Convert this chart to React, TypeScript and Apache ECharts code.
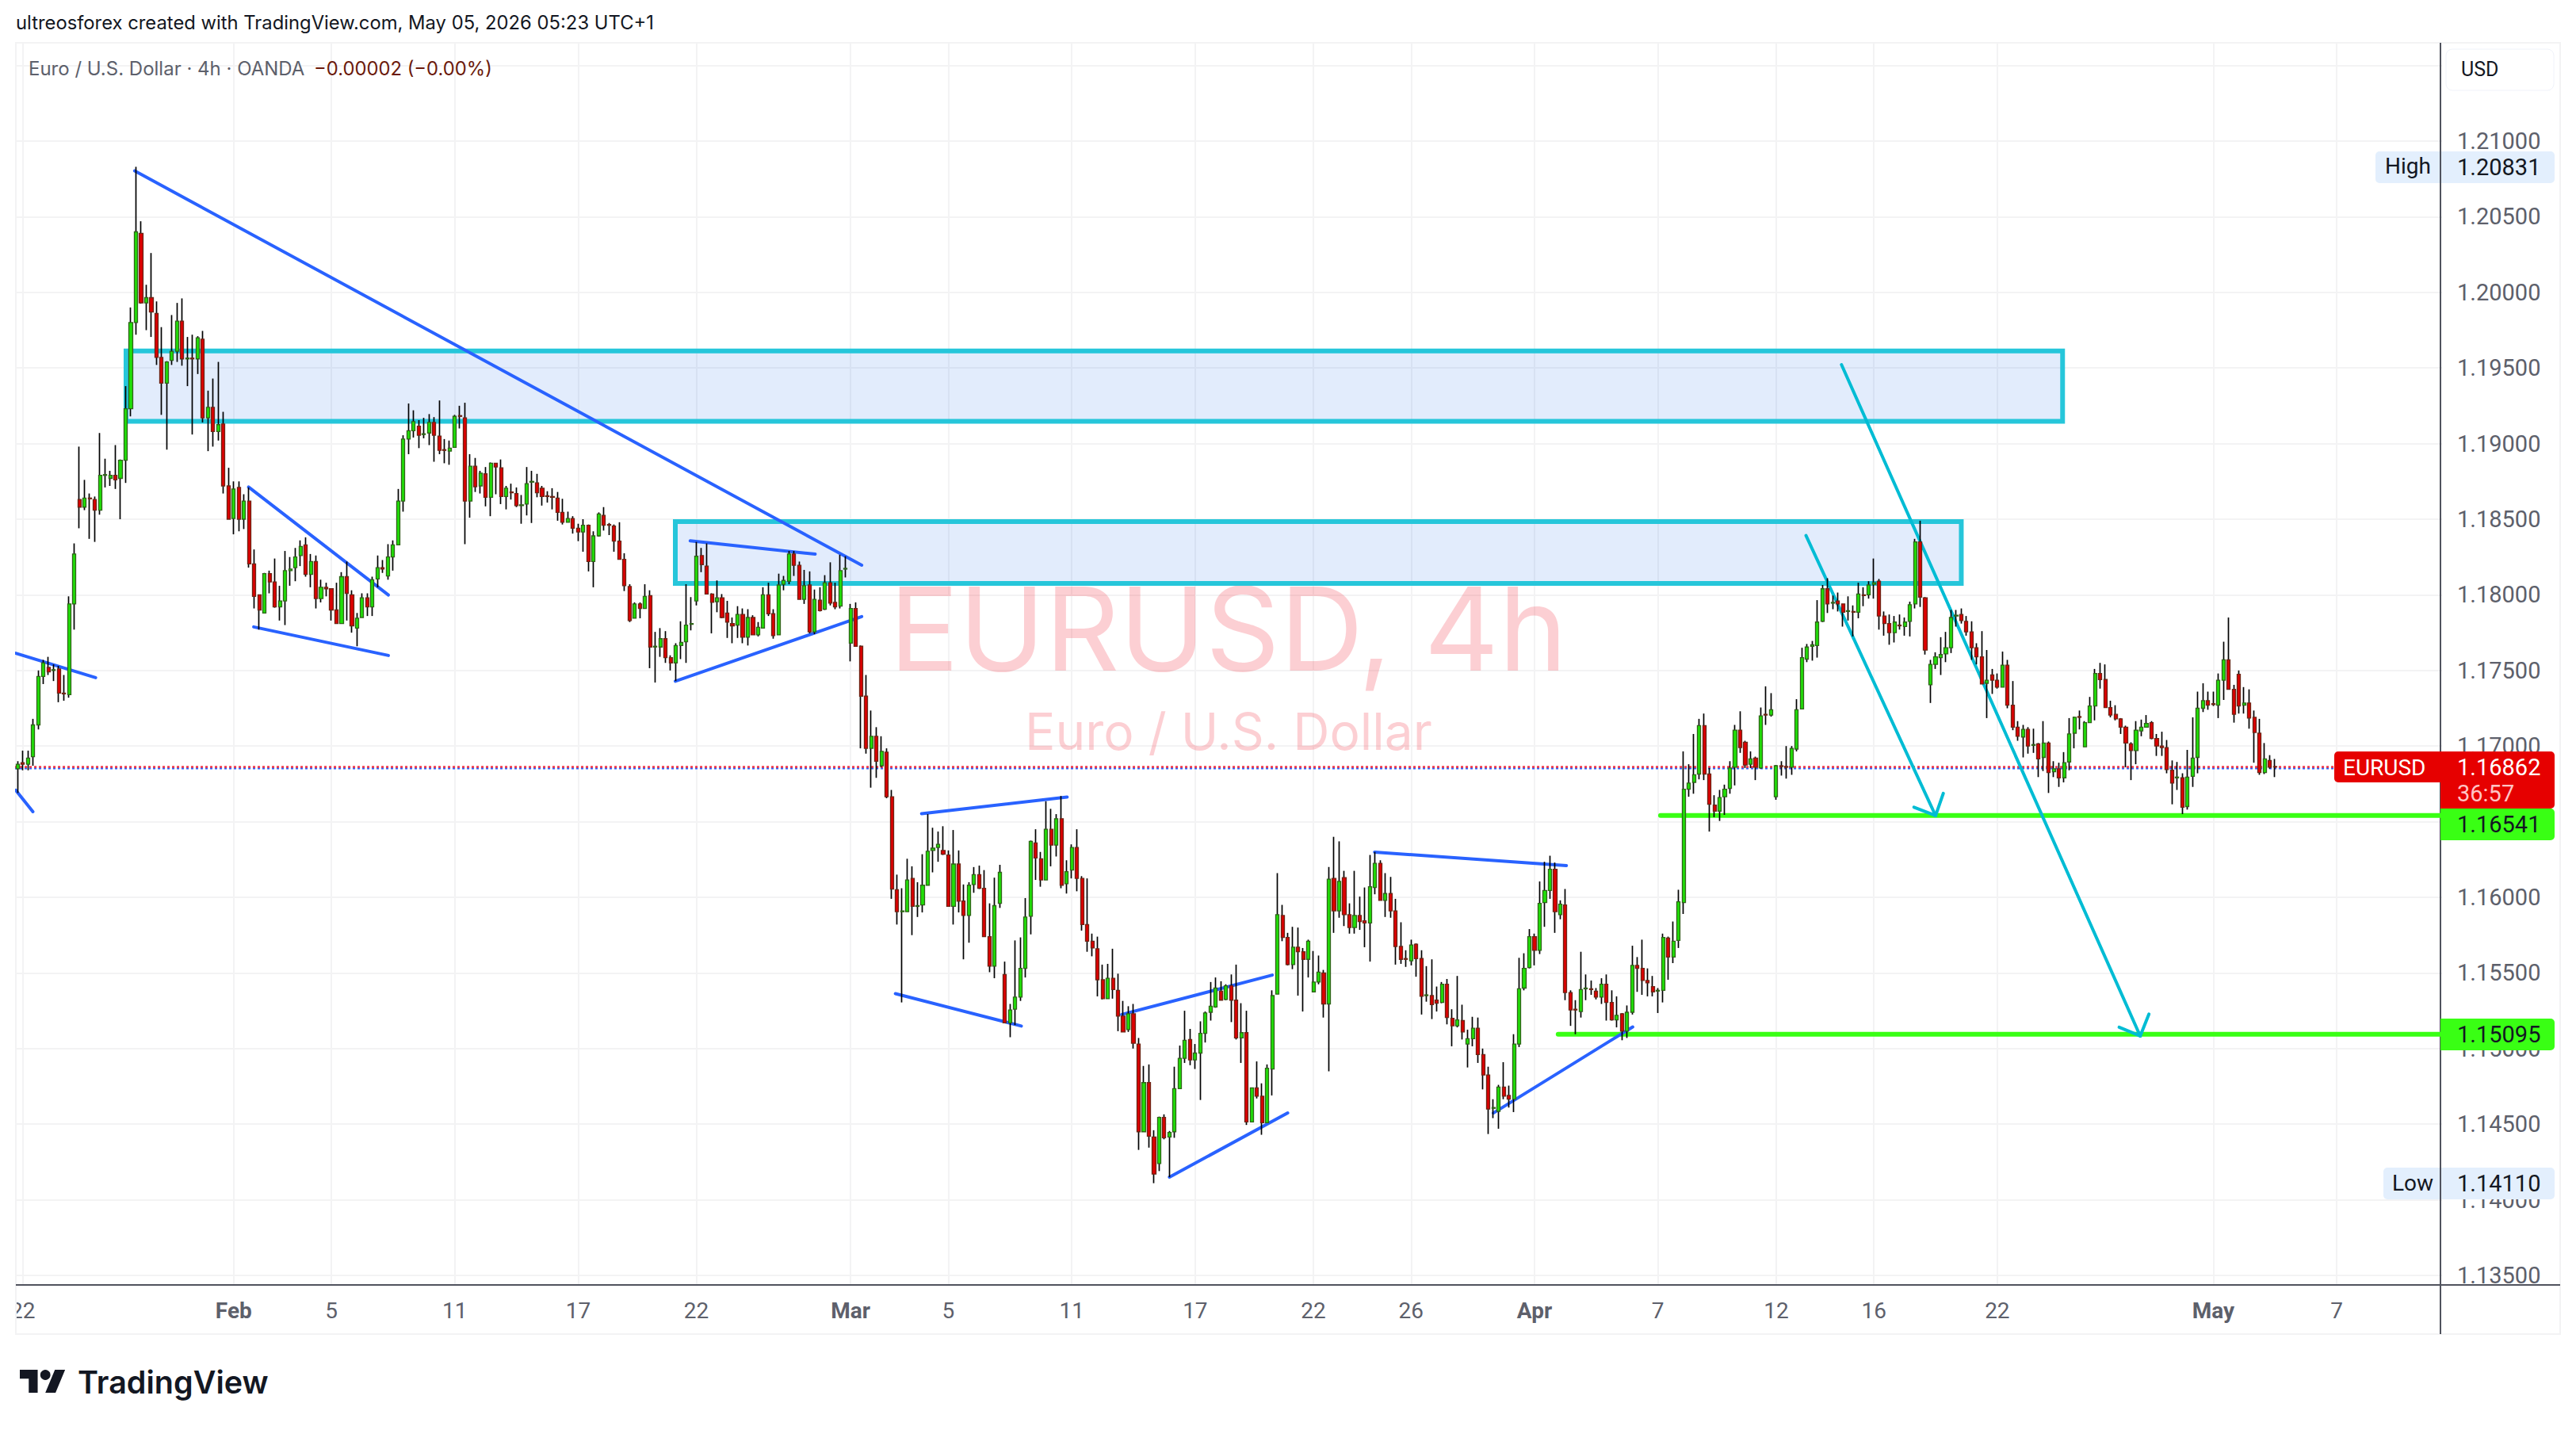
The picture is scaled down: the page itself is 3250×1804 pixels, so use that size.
import { useEffect, useRef } from 'react';
import * as echarts from 'echarts';

// candles are [open, close, low, high], 4h bars
const januaryCandles = [
  [1.1685,1.1688,1.1669,1.1690],[1.1689,1.1688,1.1684,1.1697],[1.1688,1.1692,1.1684,1.1697],[1.1693,1.1714,1.1687,1.1718],
  [1.1714,1.1746,1.1711,1.1750],[1.1746,1.1755,1.1741,1.1757],[1.1752,1.1749,1.1747,1.1759],[1.1750,1.17505,1.1743,1.1754],
  [1.1751,1.1735,1.1729,1.1753],[1.1735,1.17345,1.1730,1.1747],[1.1734,1.1794,1.1732,1.1799],[1.1794,1.1827,1.1777,1.1834],
  [1.1863,1.1858,1.1844,1.1898],[1.1858,1.1864,1.1856,1.1876],[1.1864,1.18635,1.1837,1.1867],[1.1863,1.1856,1.1835,1.1865],
  [1.1856,1.1879,1.1853,1.1907],[1.1879,1.18795,1.1871,1.1890],[1.1877,1.1879,1.1872,1.1882],[1.1879,1.1876,1.1870,1.1899],
  [1.1877,1.1889,1.1850,1.18895],[1.1889,1.1923,1.1874,1.1938],[1.1923,1.1980,1.1918,1.1990],[1.1980,1.2040,1.1972,1.2083],
  [1.2039,1.1993,1.19925,1.2047],[1.1993,1.19965,1.1975,1.2005],[1.19965,1.1987,1.19705,1.2026],[1.1986,1.1957,1.1952,1.1994],
  [1.1957,1.1940,1.1919,1.1977],[1.1940,1.1954,1.1896,1.19545],[1.1955,1.1961,1.1952,1.1985],[1.1961,1.1981,1.1954,1.1993],
  [1.1981,1.1956,1.19515,1.1996],[1.1956,1.19565,1.1938,1.19705],[1.19565,1.1956,1.1906,1.1972],[1.1956,1.1970,1.1946,1.1971],
  [1.1969,1.1917,1.1914,1.19745],[1.1917,1.1924,1.1895,1.1935],[1.1924,1.1908,1.1898,1.1943],[1.1908,1.19125,1.1902,1.1954],
  [1.1913,1.1872,1.1867,1.1921],[1.1872,1.1850,1.1850,1.1884],
];

const februaryCandles = [
  [1.18505,1.1870,1.1840,1.1875],[1.1871,1.1850,1.1842,1.1875],[1.1850,1.1862,1.18435,1.18665],[1.1862,1.18205,1.1818,1.1871],
  [1.18205,1.1799,1.1791,1.1830],[1.1800,1.1790,1.1777,1.1800],[1.1788,1.1814,1.1788,1.18145],[1.1814,1.18085,1.1801,1.1816],
  [1.18085,1.1792,1.17915,1.1824],[1.1792,1.1796,1.1783,1.1806],[1.1796,1.1816,1.1780,1.1829],[1.1816,1.1817,1.1806,1.1825],
  [1.1818,1.1825,1.1809,1.1831],[1.1826,1.1832,1.1819,1.1836],[1.1833,1.18135,1.1812,1.1838],[1.18135,1.1822,1.1805,1.1827],
  [1.1822,1.17975,1.1791,1.1826],[1.17975,1.1805,1.1795,1.1810],[1.1805,1.1804,1.1799,1.1808],[1.1804,1.1790,1.1783,1.1804],
  [1.1790,1.1781,1.1781,1.1808],[1.1781,1.1812,1.1781,1.1815],[1.1812,1.1801,1.1783,1.1822],[1.1800,1.17795,1.1775,1.1803],
  [1.1778,1.17845,1.1766,1.1788],[1.1785,1.1798,1.1785,1.1801],[1.1798,1.1792,1.1786,1.1801],[1.1792,1.1810,1.1786,1.1812],
  [1.18105,1.1818,1.1805,1.1826],[1.1818,1.1817,1.18145,1.1823],[1.18125,1.1825,1.1810,1.18335],[1.1825,1.1833,1.1816,1.1836],
  [1.1833,1.1862,1.1833,1.1870],[1.1862,1.1903,1.1855,1.19055],[1.1903,1.19085,1.1893,1.19265],[1.19085,1.19145,1.1904,1.1922],
  [1.19115,1.19055,1.1897,1.19155],[1.1906,1.19065,1.19035,1.1917],[1.1907,1.1914,1.1899,1.19195],[1.1914,1.19055,1.1888,1.19175],
  [1.1905,1.18955,1.1893,1.19285],[1.1896,1.18955,1.1887,1.1903],[1.1895,1.1897,1.1886,1.1902],[1.18975,1.1918,1.18975,1.1919],
  [1.19185,1.1918,1.1910,1.1925],[1.1917,1.1862,1.18335,1.1927],[1.1862,1.1885,1.1851,1.1893],[1.1885,1.18715,1.1868,1.18905],
  [1.1872,1.18805,1.1867,1.1882],[1.1880,1.18645,1.18585,1.18845],[1.18645,1.1887,1.1852,1.18875],[1.1887,1.18845,1.18665,1.1887],
  [1.1884,1.1865,1.1860,1.18895],[1.1865,1.18705,1.18565,1.1872],[1.1868,1.18675,1.1863,1.18735],[1.1867,1.1859,1.1858,1.1871],
  [1.1859,1.18595,1.1847,1.1866],[1.1860,1.18735,1.18525,1.18845],[1.18745,1.1875,1.18475,1.1882],[1.1874,1.18675,1.18645,1.1880],
  [1.18705,1.1865,1.1859,1.1872],[1.18655,1.1865,1.1861,1.18685],[1.1865,1.18645,1.18565,1.18705],[1.1864,1.18545,1.1849,1.1868],
  [1.18545,1.1848,1.18465,1.18635],[1.1848,1.18505,1.1848,1.1855],[1.18505,1.1844,1.18405,1.1852],[1.1844,1.18415,1.18355,1.1847],
  [1.18415,1.1846,1.18285,1.1850],[1.1846,1.1822,1.18155,1.18465],[1.1822,1.1839,1.1805,1.1842],[1.1839,1.18535,1.18385,1.18545],
  [1.18525,1.1846,1.18425,1.1858],[1.18465,1.1846,1.18395,1.18475],[1.18455,1.18355,1.18285,1.18465],[1.18355,1.18235,1.18235,1.1848],
  [1.18235,1.1806,1.18025,1.18275],[1.18055,1.1783,1.1782,1.1807],[1.17845,1.1794,1.17845,1.1795],[1.1794,1.1791,1.17845,1.1795],
  [1.1791,1.1799,1.1791,1.1807],[1.17995,1.17655,1.17515,1.1803],[1.17655,1.1766,1.1742,1.17755],[1.17655,1.1771,1.1759,1.1778],
  [1.1771,1.17585,1.1755,1.1776],[1.17585,1.1755,1.1750,1.1760],[1.1755,1.17665,1.1743,1.1768],[1.17665,1.17685,1.17575,1.17825],
  [1.1769,1.1780,1.1755,1.1807],[1.17805,1.1781,1.17765,1.17985],[1.1796,1.18255,1.1793,1.1835],[1.1826,1.1820,1.1815,1.1831],
  [1.1819,1.18005,1.18005,1.1834],[1.18005,1.1795,1.17745,1.1801],[1.17955,1.1798,1.17885,1.18095],[1.1798,1.1785,1.17845,1.18005],
  [1.1788,1.1782,1.17715,1.1796],[1.1781,1.17795,1.1768,1.1785],[1.1780,1.1787,1.17715,1.17925],[1.1787,1.1772,1.1768,1.1791],
  [1.1772,1.1785,1.17665,1.17905],[1.1785,1.17735,1.17735,1.17865],[1.17735,1.17785,1.17725,1.1782],[1.1778,1.1800,1.1778,1.1805],
  [1.1800,1.17875,1.1786,1.1808],[1.17875,1.1773,1.1771,1.17905],[1.17735,1.18065,1.17735,1.1814],[1.1807,1.18095,1.1803,1.18125],
  [1.1809,1.1827,1.1807,1.1829],[1.1827,1.18195,1.18125,1.1829],[1.18195,1.1797,1.1797,1.1822],[1.1797,1.1806,1.1794,1.18165],
  [1.18065,1.17755,1.17745,1.18155],[1.17755,1.1797,1.1774,1.18035],[1.17965,1.17895,1.1789,1.1805],[1.17905,1.1808,1.1790,1.1813],
  [1.1808,1.17945,1.1793,1.18215],[1.1795,1.1792,1.17905,1.1808],[1.17925,1.1816,1.1791,1.18265],[1.1817,1.18175,1.18115,1.18255],
];

const marchCandles = [
  [1.1768,1.1791,1.1756,1.1794],[1.1791,1.1766,1.1766,1.1795],[1.1766,1.1733,1.16985,1.17665],[1.1733,1.16985,1.1695,1.1747],
  [1.16985,1.17065,1.16725,1.17235],[1.17065,1.1690,1.1679,1.17125],[1.1687,1.16965,1.1686,1.17065],[1.1696,1.16665,1.16655,1.16985],
  [1.16665,1.16055,1.1599,1.1671],[1.1605,1.15905,1.1582,1.1615],[1.15905,1.1591,1.15305,1.1606],[1.15905,1.16115,1.15905,1.16255],
  [1.16125,1.1594,1.1575,1.16205],[1.1594,1.15945,1.1587,1.1610],[1.1595,1.1608,1.1590,1.16285],[1.1608,1.16305,1.1608,1.1655],
  [1.1631,1.16325,1.16165,1.1646],[1.1633,1.1635,1.16235,1.16435],[1.1631,1.16285,1.1628,1.1647],[1.1628,1.1594,1.1594,1.1631],
  [1.1594,1.1622,1.1582,1.16445],[1.1622,1.15975,1.1590,1.1631],[1.15975,1.1588,1.1559,1.16085],[1.1588,1.1608,1.1570,1.1610],
  [1.16085,1.1615,1.1603,1.1620],[1.1615,1.1606,1.16055,1.1621],[1.1606,1.1574,1.1574,1.1618],[1.1574,1.15545,1.15505,1.1596],
  [1.15545,1.15945,1.15465,1.1613],[1.1596,1.16165,1.1593,1.16215],[1.1549,1.1517,1.1517,1.15575],[1.1517,1.15255,1.15075,1.15295],
  [1.1526,1.1534,1.15155,1.15715],[1.1534,1.1553,1.15315,1.15735],[1.1553,1.1587,1.1547,1.15995],[1.15875,1.1637,1.15755,1.16375],
  [1.1636,1.1626,1.16115,1.1645],[1.16255,1.16115,1.1607,1.1630],[1.16115,1.1645,1.16115,1.16635],[1.1645,1.16345,1.16205,1.16585],
  [1.16345,1.1652,1.1627,1.1655],[1.1652,1.1608,1.1606,1.1667],[1.1609,1.1617,1.16025,1.16245],[1.1618,1.1633,1.16125,1.1635],
  [1.1633,1.16125,1.1604,1.1645],[1.16125,1.1582,1.1578,1.1614],[1.1582,1.1571,1.1564,1.16125],[1.1571,1.15665,1.1561,1.1576],
  [1.1566,1.15455,1.15345,1.1574],[1.15455,1.1533,1.15325,1.15555],[1.1533,1.15465,1.1533,1.1556],[1.15465,1.1539,1.1533,1.1566],
  [1.15385,1.15215,1.15115,1.15495],[1.15215,1.1511,1.1511,1.15315],[1.15125,1.1523,1.1511,1.1528],[1.1523,1.15035,1.1500,1.15295],
  [1.1503,1.1445,1.1433,1.1507],[1.1445,1.14775,1.1445,1.14885],[1.14775,1.1442,1.14345,1.14895],[1.14415,1.1417,1.1411,1.1446],
  [1.1424,1.14545,1.1419,1.1455],[1.14545,1.1441,1.1440,1.14565],[1.14415,1.14445,1.1415,1.14455],[1.1445,1.14735,1.1441,1.1488],
  [1.14735,1.14935,1.14735,1.1502],[1.14935,1.15055,1.14905,1.1525],[1.1506,1.14925,1.1489,1.1513],[1.14925,1.1497,1.14865,1.1503],
  [1.1497,1.1510,1.1466,1.1518],[1.1510,1.15235,1.1504,1.15245],[1.1524,1.1528,1.15185,1.1544],[1.15275,1.1540,1.1527,1.1547],
  [1.1538,1.1532,1.1532,1.15445],[1.15325,1.15415,1.1532,1.15425],[1.15415,1.1532,1.15175,1.1549],[1.1532,1.1507,1.1506,1.15555],
  [1.1507,1.15105,1.14905,1.1530],[1.15105,1.14515,1.14495,1.1525],[1.14515,1.1474,1.14515,1.1474],[1.1474,1.14685,1.1467,1.14915],
  [1.14685,1.1451,1.1443,1.1477],[1.1451,1.1487,1.1451,1.14895],[1.14865,1.1535,1.1469,1.15385],[1.1536,1.15885,1.1536,1.1616],
  [1.1588,1.15735,1.1571,1.1595],[1.15735,1.15555,1.1555,1.15765],[1.15555,1.1567,1.15525,1.15805],[1.1567,1.1564,1.1535,1.1580],
  [1.1564,1.1559,1.15245,1.15665],[1.1559,1.1571,1.1547,1.1572],[1.15375,1.1544,1.15375,1.15645],[1.1544,1.15505,1.15425,1.15615],
  [1.1550,1.15295,1.15205,1.1552],[1.15295,1.1612,1.1485,1.1620],[1.16125,1.1591,1.15765,1.1640],[1.1591,1.16105,1.15865,1.1637],
  [1.1613,1.15885,1.1581,1.16175],[1.15885,1.1580,1.1576,1.1596],[1.1580,1.1588,1.1576,1.16175],[1.1588,1.1584,1.15785,1.16005],
  [1.15845,1.1583,1.1567,1.16065],[1.1583,1.1607,1.15575,1.1628],[1.16065,1.16225,1.1602,1.1630],[1.16225,1.1598,1.1598,1.16245],
  [1.1598,1.16025,1.1587,1.1616],[1.16025,1.1591,1.15865,1.16135],[1.1591,1.15675,1.15555,1.1599],[1.15675,1.1559,1.1556,1.15835],
  [1.15595,1.1559,1.1554,1.1565],[1.1558,1.15685,1.1555,1.1572],[1.1569,1.15595,1.15475,1.15695],[1.15595,1.15345,1.15225,1.1565],
  [1.1535,1.15355,1.1531,1.15545],[1.1535,1.1529,1.15195,1.1559],[1.1532,1.1530,1.15245,1.1541],[1.15305,1.15425,1.1530,1.1544],
  [1.15425,1.15205,1.1516,1.1546],[1.1520,1.1515,1.15015,1.1526],[1.1515,1.1519,1.1514,1.1548],[1.15185,1.1511,1.1506,1.1529],
  [1.1503,1.15065,1.14875,1.15125],[1.15065,1.15135,1.15015,1.1521],[1.15135,1.1496,1.14905,1.15205],[1.1496,1.14825,1.1473,1.1500],
  [1.14825,1.1460,1.14435,1.1488],[1.14605,1.1461,1.1454,1.14665],[1.14585,1.14745,1.1447,1.1476],[1.14745,1.14685,1.14665,1.1491],
  [1.1469,1.14665,1.1461,1.14755],[1.14665,1.1503,1.1458,1.15095],[1.1503,1.15395,1.1501,1.1560],[1.1540,1.1553,1.15385,1.1563],
  [1.15535,1.1574,1.1553,1.1579],
];

const aprilCandles = [
  [1.1574,1.1565,1.1555,1.1576],[1.1565,1.1596,1.15625,1.16105],[1.15965,1.16045,1.15805,1.16235],[1.16045,1.16185,1.1599,1.16275],
  [1.16185,1.15905,1.15765,1.1623],[1.15885,1.15955,1.15855,1.1598],[1.1595,1.1537,1.1532,1.16055],[1.1537,1.15255,1.1515,1.15385],
  [1.1526,1.15255,1.15095,1.1532],[1.15245,1.1539,1.15205,1.1564],[1.15395,1.1540,1.1532,1.1549],[1.15395,1.1539,1.15355,1.1545],
  [1.1538,1.1534,1.15325,1.1540],[1.1534,1.15425,1.15295,1.15465],[1.15425,1.15305,1.15185,1.1549],[1.15305,1.1519,1.15185,1.15385],
  [1.1519,1.1522,1.1514,1.15345],[1.1523,1.15115,1.15055,1.15235],[1.15115,1.1524,1.1507,1.15285],[1.1524,1.1555,1.15225,1.1568],
  [1.1555,1.1553,1.15375,1.15605],[1.1553,1.1545,1.15355,1.1572],[1.1545,1.15435,1.15345,1.1553],[1.1541,1.15375,1.15345,1.1548],
  [1.1538,1.15385,1.15235,1.1540],[1.15385,1.15735,1.15305,1.1576],[1.1573,1.15605,1.15455,1.1574],[1.15605,1.1571,1.15565,1.1584],
  [1.15715,1.1597,1.15665,1.1605],[1.15965,1.16715,1.1589,1.16965],[1.16715,1.16755,1.16665,1.1688],[1.1676,1.1681,1.16685,1.1708],
  [1.16815,1.17135,1.1678,1.1718],[1.17135,1.16815,1.16775,1.17215],[1.16815,1.16615,1.16435,1.16855],[1.1661,1.1657,1.1653,1.16675],
  [1.1657,1.1666,1.16505,1.1671],[1.16665,1.16715,1.16545,1.16745],[1.1672,1.16855,1.16685,1.1690],[1.1686,1.17105,1.1674,1.1714],
  [1.17105,1.1699,1.16955,1.1723],[1.17025,1.16875,1.16855,1.17035],[1.1688,1.16915,1.16855,1.16965],[1.1692,1.1686,1.16775,1.1693],
  [1.16855,1.1720,1.1685,1.17255],[1.1721,1.17205,1.1714,1.17395],[1.17205,1.1724,1.17195,1.1735],[1.16665,1.1687,1.16645,1.16875],
  [1.1687,1.16865,1.16805,1.1690],[1.16865,1.1686,1.16785,1.1700],[1.1686,1.16985,1.1681,1.1700],[1.1698,1.1724,1.16965,1.1731],
  [1.17245,1.17585,1.17245,1.1765],[1.17575,1.17655,1.17555,1.17675],[1.1766,1.1767,1.17565,1.17695],[1.17665,1.1782,1.17585,1.17965],
  [1.17825,1.1804,1.1782,1.18065],[1.1804,1.1794,1.1788,1.1811],[1.17945,1.1795,1.17905,1.17995],[1.1796,1.1794,1.1789,1.18015],
  [1.1794,1.17885,1.1779,1.1794],[1.1789,1.17895,1.1783,1.1799],[1.1789,1.17885,1.17725,1.1793],[1.17885,1.18005,1.17845,1.1808],
  [1.1800,1.17995,1.17925,1.1805],[1.1800,1.18065,1.17975,1.1809],[1.1807,1.1808,1.17975,1.1824],[1.1809,1.1786,1.1777,1.18105],
  [1.1786,1.1781,1.1773,1.1789],[1.1781,1.1775,1.1767,1.1787],[1.1775,1.1782,1.17685,1.1786],[1.1780,1.17795,1.1777,1.1787],
  [1.1779,1.1782,1.1773,1.1785],[1.17825,1.17935,1.17725,1.17955],[1.1794,1.1835,1.1791,1.1837],[1.1835,1.17985,1.1792,1.1849],
  [1.1798,1.17635,1.17605,1.17985],[1.17405,1.1754,1.17285,1.1757],[1.1754,1.1759,1.1751,1.1762],[1.17585,1.17605,1.1747,1.1772],
  [1.1761,1.1765,1.17555,1.17755],[1.1765,1.1785,1.17615,1.1790],[1.1786,1.17865,1.1779,1.1790],[1.1787,1.1783,1.1781,1.1791],
  [1.17825,1.17755,1.1773,1.1786],[1.17755,1.1765,1.1757,1.17825],[1.1765,1.1759,1.1754,1.1768],[1.1759,1.1741,1.1741,1.1776],
  [1.17415,1.17435,1.17185,1.17635],[1.1747,1.17435,1.17345,1.1751],[1.17435,1.1739,1.1738,1.1748],[1.1739,1.17535,1.1739,1.17625],
  [1.17535,1.1727,1.1725,1.1757],[1.1727,1.17125,1.17105,1.1743],[1.17125,1.17065,1.17035,1.17165],[1.1706,1.1711,1.16925,1.1714],
  [1.1711,1.1700,1.1695,1.17125],[1.17005,1.1701,1.16955,1.17115],[1.17015,1.16915,1.16795,1.1702],[1.16925,1.1702,1.16835,1.17165],
  [1.1702,1.16825,1.1669,1.1703],[1.1683,1.1685,1.16795,1.1690],[1.1685,1.1679,1.1673,1.1689],[1.1679,1.1689,1.1676,1.1696],
  [1.16895,1.1708,1.1684,1.17185],[1.17085,1.1719,1.16985,1.17195],[1.17195,1.1719,1.1711,1.17235],[1.16995,1.17155,1.16995,1.17165],
  [1.17155,1.17265,1.17155,1.17325],[1.17265,1.1748,1.1717,1.1751],[1.1748,1.1744,1.1738,1.1755],[1.1744,1.17255,1.17255,1.1754],
  [1.17255,1.17205,1.1719,1.1730],[1.1721,1.1718,1.1717,1.1727],[1.1718,1.17125,1.1708,1.17185],[1.17125,1.1702,1.1686,1.17135],
  [1.17015,1.1697,1.16775,1.17025],[1.1697,1.17105,1.1688,1.17165],[1.1710,1.17125,1.17065,1.17175],[1.17125,1.1715,1.17125,1.17205],
  [1.17155,1.1705,1.17045,1.17165],[1.1705,1.1700,1.16935,1.1708],[1.1700,1.1699,1.16935,1.17095],[1.1699,1.16845,1.1682,1.1704],
  [1.1684,1.16755,1.16615,1.16905],[1.1679,1.16795,1.1671,1.16895],[1.1679,1.16595,1.1655,1.1682],[1.1660,1.16795,1.1658,1.16975],
  [1.1680,1.1692,1.1673,1.1719],[1.16925,1.1725,1.1682,1.1736],[1.1725,1.1730,1.17225,1.17415],[1.1730,1.1727,1.1724,1.1736],
];

const mayCandles = [
  [1.1728,1.17275,1.17265,1.1736],[1.1727,1.17435,1.17185,1.1748],[1.17435,1.1757,1.17305,1.1769],[1.1757,1.17375,1.17375,1.1785],
  [1.17375,1.1721,1.17155,1.17405],[1.17475,1.17265,1.17215,1.1750],[1.1727,1.17285,1.17215,1.1739],[1.17285,1.17185,1.17115,1.17375],
  [1.1719,1.1709,1.1689,1.17235],[1.17085,1.16825,1.1681,1.1718],[1.16825,1.16915,1.16815,1.1702],[1.16905,1.1686,1.1685,1.1694],
  [1.16864,1.16862,1.16795,1.16915],
];

const candles = [...januaryCandles, ...februaryCandles, ...marchCandles, ...aprilCandles, ...mayCandles];

const priceTicks = [1.135,1.14,1.145,1.15,1.155,1.16,1.165,1.17,1.175,1.18,1.185,1.19,1.195,1.2,1.205,1.21,1.215];
const priceLabels = priceTicks.filter((p) => p < 1.212);

// bar index of each date label
const dateTickBars = [1,42,61,85,109,132,162,181,205,229,252,271,295,319,342,361,385,427,451];
const dateTickTexts = ['22','Feb','5','11','17','22','Mar','5','11','17','22','26','Apr','7','12','16','22','May','7'];
const monthTicks = ['Feb','Mar','Apr','May'];

// drawings, anchored at [bar, price, bar, price]
const supplyZones = [
  [21.07,1.19612,397.7,1.19147],
  [127.9,1.18484,378,1.18075],
];
const trendLines = [
  [22.75,1.20803,164.15,1.18196],
  [-0.36,1.17614,15.16,1.17452],
  [-0.36,1.16708,2.96,1.16566],
  [44.9,1.18713,72.1,1.17999],
  [45.9,1.17788,72.1,1.17599],
  [130.8,1.18357,155.1,1.18269],
  [127.9,1.17429,164.15,1.17856],
  [175.8,1.16553,204.1,1.16663],
  [170.7,1.15363,195.2,1.15149],
  [214.7,1.15225,244,1.15486],
  [224,1.1415,247,1.14574],
  [263.9,1.16299,301.2,1.1621],
  [287,1.14574,314.1,1.15143],
];
const targetArrows = [
  [347.8,1.18392,373,1.1654],
  [368.8,1.16596,373,1.1654],
  [374.5,1.16687,373,1.1654],
  [354.7,1.19522,412.8,1.15083],
  [408.7,1.15141,412.8,1.15083],
  [414.5,1.15228,412.8,1.15083],
];
const targetLevels = [
  [319.5,1.16541,471.2,1.16541],
  [299.6,1.15095,471.2,1.15095],
];
const lastPriceRed = [[-0.5,1.16862,450.6,1.16862]];
const lastPriceBlue = [[-0.5,1.16853,450.6,1.16853]];

const BAR_COUNT = 472;
const FONT = 'Inter, "Noto Sans", sans-serif';
const AXIS_FONT = 'Roboto, "Noto Sans", sans-serif';
const GREY = '#5d606b';
const AXIS_COLOR = '#50535e';

echarts.graphic.registerShape(
  'tvLogo',
  echarts.graphic.extendPath('M14 22H7V11H0V4h14v18zM28 22h-8l7.5-18h8L28 22z', {}) as any
);

const segmentSeries = (data: number[][], color: string, width: number, z: number, dash?: number[], cap = 'round') => ({
  type: 'custom',
  xAxisIndex: 1,
  yAxisIndex: 0,
  z,
  clip: true,
  silent: true,
  encode: { x: [0, 2], y: [1, 3] },
  data,
  renderItem: (_: any, api: any) => {
    const a = api.coord([api.value(0), api.value(1)]);
    const b = api.coord([api.value(2), api.value(3)]);
    return {
      type: 'line',
      shape: { x1: a[0], y1: a[1], x2: b[0], y2: b[1] },
      style: { stroke: color, lineWidth: width, lineCap: cap, lineDash: dash, fill: null },
    };
  },
});

const text = (x: number, y: number, value: string, size: number, fill: string, family = AXIS_FONT, weight = 400) => ({
  type: 'text',
  x,
  y,
  z: 100,
  silent: true,
  style: { text: value, font: `${weight} ${size}px ${family}`, fill, textVerticalAlign: 'middle', textAlign: 'left' },
});

const box = (x: number, y: number, width: number, height: number, fill: string, r: any = 5, stroke?: string) => ({
  type: 'rect',
  z: 90,
  silent: true,
  shape: { x, y, width, height, r },
  style: { fill, stroke },
});

const App = () => {
  const chartRef = useRef<HTMLDivElement>(null);

  useEffect(() => {
    if (!chartRef.current) return;

    const chart = echarts.init(chartRef.current, undefined, { renderer: 'svg' });

    const option = {
      animation: false,
      backgroundColor: '#ffffff',
      grid: { left: 19.06, top: 54, right: 169, bottom: 183 },
      xAxis: [
        {
          type: 'category',
          data: candles.map((_, i) => String(i)).concat(Array.from({ length: BAR_COUNT - candles.length }, (_, i) => `f${i}`)),
          axisLine: { show: false },
          axisTick: { show: false },
          axisLabel: { show: false },
          splitLine: { show: false },
        },
        {
          type: 'value',
          position: 'bottom',
          min: -0.5,
          max: BAR_COUNT - 0.5,
          axisLine: { show: false },
          axisTick: { show: false, customValues: dateTickBars },
          splitLine: { show: true, lineStyle: { color: '#f3f3f4', width: 2 } },
          axisLabel: {
            customValues: dateTickBars,
            margin: 18,
            color: GREY,
            fontFamily: AXIS_FONT,
            fontSize: 28,
            hideOverlap: false,
            showMinLabel: true,
            showMaxLabel: true,
            formatter: (v: number) => {
              const label = dateTickTexts[dateTickBars.indexOf(v)];
              return monthTicks.includes(label) ? `{month|${label}}` : label;
            },
            rich: { month: { fontFamily: AXIS_FONT, fontSize: 28, fontWeight: 700, color: GREY } },
          },
        },
      ],
      yAxis: [
        {
          type: 'value',
          position: 'right',
          min: 1.134371,
          max: 1.2164990,
          scale: true,
          axisLine: { show: false },
          axisTick: { show: false, customValues: priceTicks },
          splitLine: { show: true, lineStyle: { color: '#f3f3f4', width: 2 } },
          axisLabel: {
            customValues: priceLabels,
            margin: 19,
            color: GREY,
            fontFamily: AXIS_FONT,
            fontSize: 29,
            formatter: (v: number) => v.toFixed(5),
          },
        },
      ],
      series: [
        {
          type: 'custom',
          xAxisIndex: 1,
          yAxisIndex: 0,
          z: 3,
          clip: true,
          silent: true,
          encode: { x: [0, 2], y: [1, 3] },
          data: supplyZones,
          renderItem: (_: any, api: any) => {
            const a = api.coord([api.value(0), api.value(1)]);
            const b = api.coord([api.value(2), api.value(3)]);
            return {
              type: 'rect',
              shape: { x: a[0], y: a[1], width: b[0] - a[0], height: b[1] - a[1] },
              style: { fill: 'rgba(30,110,235,0.13)', stroke: '#26c6da', lineWidth: 6 },
            };
          },
        },
        segmentSeries(targetLevels, '#39ff14', 6, 4, undefined, 'round'),
        segmentSeries(lastPriceBlue, '#2962ff', 2.5, 4, [3, 3], 'butt'),
        segmentSeries(lastPriceRed, '#f23645', 2.5, 4, [3, 3], 'butt'),
        segmentSeries(trendLines, '#2962ff', 4, 5),
        segmentSeries(targetArrows, '#00bcd4', 4, 5),
        {
          // wicks
          type: 'candlestick',
          xAxisIndex: 0,
          yAxisIndex: 0,
          z: 6,
          silent: true,
          barWidth: 1,
          data: candles,
          itemStyle: { color: '#000000', color0: '#000000', borderColor: '#000000', borderColor0: '#000000', borderWidth: 1.7 },
        },
        {
          // bodies, with low and high held to the body so that no wick is drawn
          type: 'candlestick',
          xAxisIndex: 0,
          yAxisIndex: 0,
          z: 7,
          silent: true,
          barWidth: 4.6,
          data: candles.map(([o, c]) => [o, c, Math.min(o, c), Math.max(o, c)]),
          itemStyle: { color: '#20e008', color0: '#dc0000', borderColor: '#2f6418', borderColor0: '#6e2414', borderWidth: 1.3 },
        },
      ],
      graphic: {
        elements: [
          // watermark
          { type: 'text', x: 1122, y: 793, z: 1, silent: true, style: { text: 'EURUSD, 4h', font: `400 146px ${FONT}`, fill: 'rgba(242,54,69,0.24)', textVerticalAlign: 'middle' } },
          { type: 'text', x: 1293, y: 922, z: 1, silent: true, style: { text: 'Euro / U.S. Dollar', font: `400 64px ${FONT}`, fill: 'rgba(242,54,69,0.24)', textVerticalAlign: 'middle' } },
          // frame and axis lines
          { type: 'rect', z: 2, silent: true, shape: { x: 20, y: 54, width: 3210, height: 1629 }, style: { fill: 'none', stroke: '#f3f3f4', lineWidth: 2 } },
          { type: 'line', z: 2, silent: true, shape: { x1: 3079, y1: 54, x2: 3079, y2: 1683 }, style: { stroke: AXIS_COLOR, lineWidth: 2 } },
          { type: 'line', z: 2, silent: true, shape: { x1: 20, y1: 1621, x2: 3230, y2: 1621 }, style: { stroke: AXIS_COLOR, lineWidth: 2 } },
          // hides the start of the clipped first date label
          { type: 'rect', z: 80, silent: true, shape: { x: 0, y: 1630, width: 19, height: 45 }, style: { fill: '#ffffff' } },
          // header
          text(20, 28, 'ultreosforex created with TradingView.com, May 05, 2026 05:23 UTC+1', 23.8, '#131722', FONT),
          text(36, 86, 'Euro / U.S. Dollar · 4h · OANDA', 24, GREY, FONT),
          text(396, 86, '−0.00002 (−0.00%)', 23.8, '#6b1a0c', FONT),
          // currency box
          box(3086, 62, 136, 52, '#ffffff', 8, '#f0f3fa'),
          text(3105, 87, 'USD', 25, '#131722'),
          // high / low
          box(2997, 191, 226, 40, '#e3effd'),
          { type: 'line', z: 91, silent: true, shape: { x1: 3079, y1: 191, x2: 3079, y2: 231 }, style: { stroke: AXIS_COLOR, lineWidth: 2 } },
          text(3009, 209, 'High', 28, '#131722'),
          text(3100, 211, '1.20831', 29, '#131722'),
          box(3007, 1473, 216, 40, '#e3effd'),
          { type: 'line', z: 91, silent: true, shape: { x1: 3079, y1: 1473, x2: 3079, y2: 1513 }, style: { stroke: AXIS_COLOR, lineWidth: 2 } },
          text(3018, 1492, 'Low', 28, '#131722'),
          text(3100, 1493, '1.14110', 29, '#131722'),
          // last price
          box(2945, 948, 140, 39, '#e60000', [5, 0, 0, 5]),
          box(3079, 948, 144, 72, '#e60000', [0, 5, 5, 0]),
          text(2956, 968, 'EURUSD', 28, '#ffffff'),
          text(3100, 968, '1.16862', 29, '#ffffff'),
          text(3100, 1001, '36:57', 29, '#ffc4c4'),
          // targets
          box(3079, 1020, 144, 40, '#39ff14', [0, 5, 5, 0]),
          text(3100, 1040, '1.16541', 29, '#131722'),
          box(3079, 1285, 144, 40, '#39ff14', [0, 5, 5, 0]),
          text(3100, 1305, '1.15095', 29, '#131722'),
          // logo
          { type: 'tvLogo', x: 25, y: 1721.5, scaleX: 1.61, scaleY: 1.61, z: 100, silent: true, style: { fill: '#131722' } },
          { type: 'circle', z: 100, silent: true, shape: { cx: 57.2, cy: 1734.5, r: 6.4 }, style: { fill: '#131722' } },
          text(98, 1744, 'TradingView', 39.5, '#131722', FONT, 600),
        ],
      },
    };

    chart.setOption(option as any);

    return () => {
      chart.dispose();
    };
  }, []);

  return <div ref={chartRef} style={{ position: 'absolute', left: 0, top: 0, width: '3250px', height: '1804px' }} />;
};

export default App;
